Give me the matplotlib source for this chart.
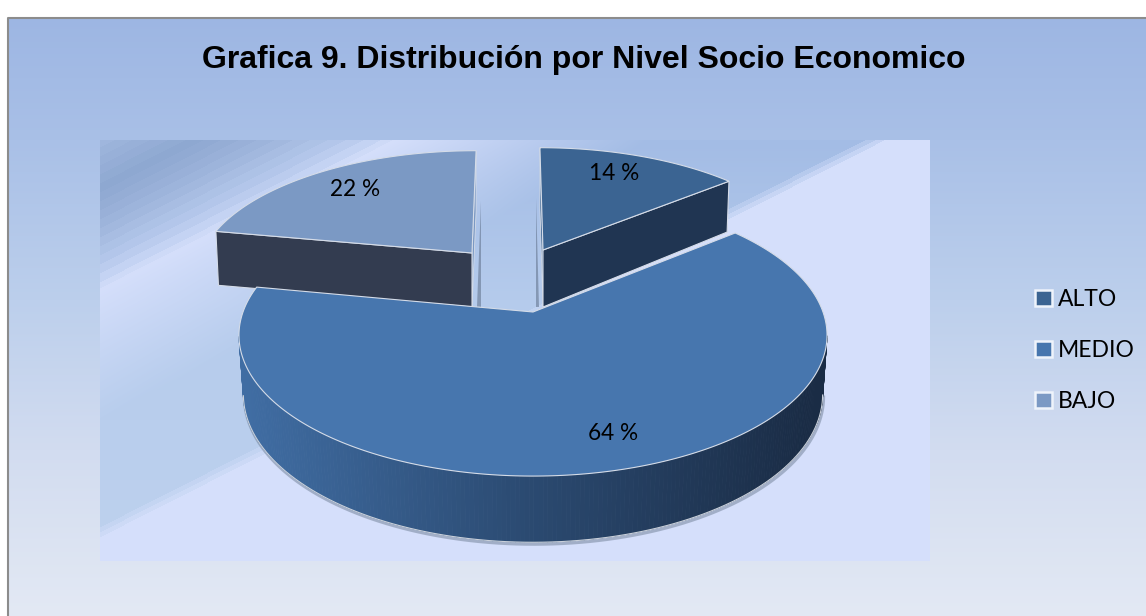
import numpy as np
import matplotlib
matplotlib.use('Agg')
import matplotlib.pyplot as plt
from matplotlib.collections import PolyCollection
from matplotlib.colors import to_rgb
from matplotlib.patches import Patch

# datos de la grafica
categorias = ['ALTO', 'MEDIO', 'BAJO']
porcentajes = [14, 64, 22]
titulo = 'Grafica 9. Distribución por Nivel Socio Economico'

colores = ['#3b6492', '#4776ae', '#7b99c4']
corte = ['#203552', '#2b496f', '#333c50']

# perspectiva del pastel, px
R, A, K = 290, 137, 0.165
estilo = {
    'ALTO': dict(cx=543, cy=250, sx=0.93, sy=0.87, shear=-0.03, fondo=57, bx=0.99, by=1.09),
    'MEDIO': dict(cx=533, cy=312, sx=1.0, sy=1.0, shear=0.0, fondo=58, bx=0.985, by=1.05),
    'BAJO': dict(cx=472, cy=253, sx=0.93, sy=0.87, shear=0.04, fondo=54, bx=0.99, by=1.0),
}


def proyecta(theta, st, abajo=False):
    theta = np.radians(theta)
    u, v = np.sin(theta), np.cos(theta)
    d = 1 + K * v
    h = A * v / d * st['sy']
    x = R * u / d * st['sx'] + st['shear'] * h
    if abajo:
        return st['cx'] + x * st['bx'], st['cy'] + st['fondo'] - h * st['by']
    return st['cx'] + x, st['cy'] - h


def mezcla(c1, c2, t):
    return np.asarray(c1) * (1 - t) + np.asarray(c2) * t


fig = plt.figure(figsize=(11.46, 6.16), dpi=100)
ax = fig.add_axes([0, 0, 1, 1])
ax.axis('off')

# fondo vertical
yy = np.arange(17, 616) + 0.5
stops_y = [17, 140, 300, 450, 616]
stops_c = np.array([to_rgb(c) for c in ['#9db6e3', '#a9c0e7', '#bccfec', '#d2dcf0', '#e3e9f4']])
fondo = np.stack([np.interp(yy, stops_y, stops_c[:, i]) for i in range(3)], axis=1)
ax.imshow(fondo[:, None, :], extent=(8, 1146, 616, 17), aspect='auto', zorder=0)
ax.plot([7.5, 7.5, 1146], [616, 17.5, 17.5], color='#8c8c8c', lw=1.5, zorder=1)

# area de trazado con bandas diagonales
px, py = np.meshgrid(np.arange(100, 930) + 0.5, np.arange(140, 561) + 0.5)
d = py + 0.506 * px
claro = np.array(to_rgb('#d5dffb'))
tono_y = [140, 300, 540]
tono_c = np.array([to_rgb(c) for c in ['#a3bce5', '#b5cbec', '#bdd1ee']])
base = np.stack([np.interp(py, tono_y, tono_c[:, i]) for i in range(3)], axis=2)
# parte superior izquierda con rayas
d_r = np.floor(d / 9) * 9
s_d = [190, 235, 270, 310, 339]
s_c = np.array([to_rgb(c) for c in ['#9fb6dd', '#8ea8d1', '#9db4db', '#b6c9ec', '#d5dffb']])
rayas = np.stack([np.interp(d_r, s_d, s_c[:, i]) for i in range(3)], axis=2)
t = np.clip((d - 339) / 130, 0, 1)[..., None]
banda = mezcla(claro, base, t)
# escalones claros al final de la banda
t2 = (np.floor((d - 578) / 5) * 5 / 15)[..., None]
banda = np.where((d > 578)[..., None], mezcla(banda, claro, np.clip(t2 + 0.35, 0, 1)), banda)
img = np.where((d < 339)[..., None], rayas, banda)
ax.imshow(img, extent=(100, 930, 561, 140), aspect='auto', zorder=1)
ax.set_xlim(0, 1146)
ax.set_ylim(616, 0)

# angulos desde los porcentajes
total = sum(porcentajes)
fin = np.cumsum(porcentajes) / total * 360
ini = np.r_[0, fin[:-1]]

z = 3
for i in [2, 0, 1]:
    nombre = categorias[i]
    st = estilo[nombre]
    th = np.linspace(ini[i], fin[i], 300)
    xt, yt = proyecta(th, st)
    xb, yb = proyecta(th, st, abajo=True)
    cx, cy = st['cx'], st['cy']
    cy2 = cy + st['fondo']

    if nombre == 'MEDIO':
        # solo la parte visible del borde
        vis = np.cos(np.radians(th)) < -K
        xv, yv, xw, yw = xt[vis], yt[vis], xb[vis], yb[vis]
        ax.plot(xw + 1, yw + 2, color='#6f7f95', lw=2.2, alpha=0.5, zorder=z)
        polys = []
        cols = []
        g1, g2, g3 = to_rgb('#406da3'), to_rgb('#2b4a71'), to_rgb('#1a2c45')
        for j in range(len(xv) - 1):
            polys.append([(xv[j], yv[j]), (xv[j + 1], yv[j + 1]), (xw[j + 1], yw[j + 1]), (xw[j], yw[j])])
            xm = xv[j]
            if xm < 530:
                cols.append(mezcla(g1, g2, np.clip((xm - 245) / 285, 0, 1)))
            else:
                cols.append(mezcla(g2, g3, np.clip((xm - 530) / 280, 0, 1)))
        ax.add_collection(PolyCollection(polys, facecolors=cols, edgecolors=cols, linewidths=0.6, zorder=z))
        ax.plot(xw, yw, color='#c9d0da', lw=0.8, zorder=z + 0.1)
    else:
        # caras de corte
        if nombre == 'ALTO':
            ex, ey = xt[-1], yt[-1]
            ebx, eby = xb[-1], yb[-1]
            sx, sy = xt[0], yt[0]
        else:
            ex, ey = xt[0], yt[0]
            ebx, eby = xb[0], yb[0]
            sx, sy = xt[-1], yt[-1]
        dirx = -4 if nombre == 'ALTO' else 5
        ax.fill([sx + dirx, sx + dirx, cx + dirx], [sy + 50, cy2, cy2],
                color='#5f6f88', alpha=0.55, lw=0, zorder=z)
        ax.fill([cx, ex, ebx, cx], [cy, ey, eby, cy2], color=corte[i], ec='#d5dce8', lw=0.8, zorder=z + 0.1)
        ax.fill([cx, sx, sx, cx], [cy, sy, sy + 60, cy2], color=colores[i], ec='#d5dce8', lw=0.6, zorder=z + 0.05)

    # cara superior
    ax.fill(np.r_[cx, xt], np.r_[cy, yt], color=colores[i], ec='#d5dce8', lw=0.8, zorder=z + 0.2)
    z += 1

# etiquetas
fuente = 'Lato'
pos_etq = [(614, 173), (613, 433), (355, 189)]
for p, (x, y) in zip(porcentajes, pos_etq):
    ax.text(x, y, f'{p} %', ha='center', va='center', fontsize=16.3, family=fuente, color='black', zorder=10)

ax.text(584, 60, titulo, ha='center', va='center', fontsize=23, fontweight='bold',
        family='Liberation Sans', color='black', zorder=10)

manejadores = [Patch(facecolor=c, edgecolor='#eef3fb', lw=1.8) for c in colores]
ley = ax.legend(manejadores, categorias, loc='center left', bbox_to_anchor=(1035 / 1146, 1 - 350.5 / 616),
                frameon=False, prop={'family': fuente, 'size': 16.5}, handlelength=0.72, handleheight=0.72,
                handletextpad=0.28, labelspacing=1.3, borderpad=0, borderaxespad=0)
ley.set_zorder(10)

fig.savefig('out.png', dpi=100)
